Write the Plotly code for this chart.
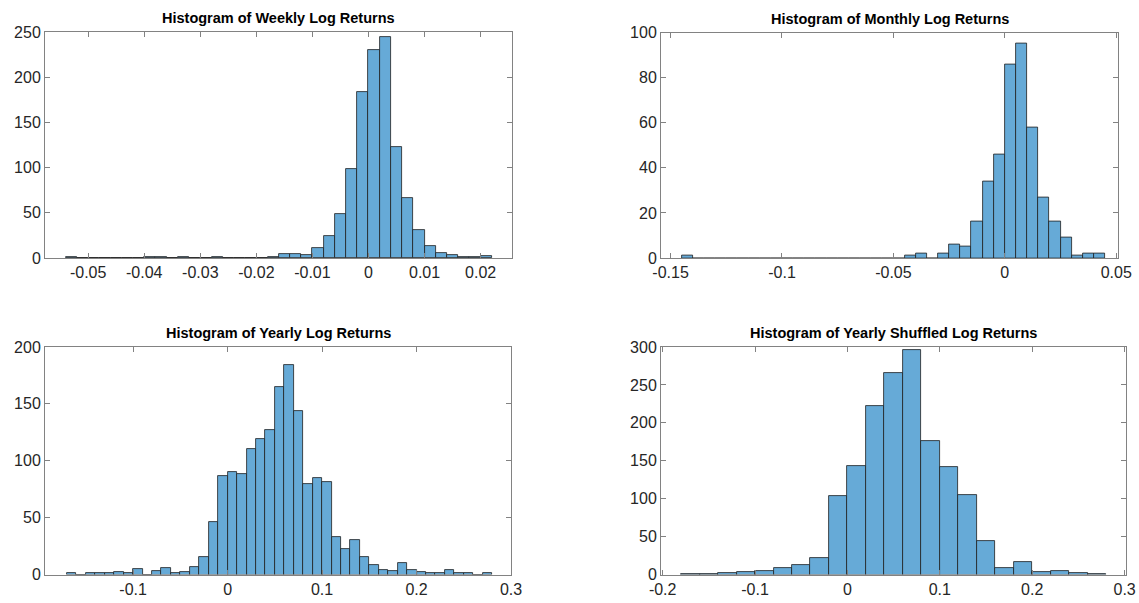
import numpy as np
import plotly.graph_objects as go

W, H = 1139, 603

# ---------------- data ----------------
titles = [
    "Histogram of Weekly Log Returns",
    "Histogram of Monthly Log Returns",
    "Histogram of Yearly Log Returns",
    "Histogram of Yearly Shuffled Log Returns",
]

weekly_start, weekly_width = -0.054, 0.002
weekly_counts = [1, 0, 0, 0, 0, 0, 0, 1, 1, 0, 1, 0, 0, 1, 0, 0, 0, 0, 1,
                 4, 4, 3, 11, 24, 49, 99, 184, 230, 244, 123, 66, 31, 13, 6, 3, 1, 1, 2]

monthly_start, monthly_width = -0.145, 0.005
monthly_counts = [1] + [0] * 19 + [1, 2, 0, 2, 6, 5, 16, 34, 46, 86, 95, 58, 27, 16, 9, 1, 2, 2]

yearly_start, yearly_width = -0.17, 0.01
yearly_counts = [1, 0, 1, 1, 1, 2, 1, 5, 0, 3, 6, 1, 2, 7, 15, 46, 87, 90, 88, 110, 119, 127,
                 165, 184, 144, 80, 85, 81, 33, 22, 30, 15, 8, 4, 3, 10, 4, 2, 1, 1, 4, 1, 1, 0, 1]

shuffled_start, shuffled_width = -0.18, 0.02
shuffled_counts = [1, 1, 2, 3, 5, 9, 13, 22, 104, 143, 222, 266, 296, 176, 142, 105, 44, 9, 17, 3, 5, 2, 1]

x_tickvals = [
    [-0.05, -0.04, -0.03, -0.02, -0.01, 0, 0.01, 0.02],
    [-0.15, -0.1, -0.05, 0, 0.05],
    [-0.1, 0, 0.1, 0.2, 0.3],
    [-0.2, -0.1, 0, 0.1, 0.2, 0.3],
]
x_ticktext = [
    ["-0.05", "-0.04", "-0.03", "-0.02", "-0.01", "0", "0.01", "0.02"],
    ["-0.15", "-0.1", "-0.05", "0", "0.05"],
    ["-0.1", "0", "0.1", "0.2", "0.3"],
    ["-0.2", "-0.1", "0", "0.1", "0.2", "0.3"],
]
y_tickvals = [
    [0, 50, 100, 150, 200, 250],
    [0, 20, 40, 60, 80, 100],
    [0, 50, 100, 150, 200],
    [0, 50, 100, 150, 200, 250, 300],
]
x_ranges = [[-0.0577, 0.0256], [-0.1543, 0.0508], [-0.1933, 0.3], [-0.2018, 0.3015]]
y_ranges = [[0, 250], [0, 100], [0, 200], [0, 300]]

# ---------------- layout (pixel boxes) ----------------
boxes = [  # left, right, top, bottom in px
    (45, 512, 32, 258),
    (661, 1118, 32.5, 258),
    (45, 511, 347, 574.5),
    (661, 1126, 347, 574.5),
]

series = [
    (weekly_start, weekly_width, weekly_counts),
    (monthly_start, monthly_width, monthly_counts),
    (yearly_start, yearly_width, yearly_counts),
    (shuffled_start, shuffled_width, shuffled_counts),
]

FACE = "rgb(102,170,215)"
EDGE = "rgb(30,30,30)"
AXC = "rgb(130,130,130)"
TXT = "rgb(38,38,38)"
FONT = "Liberation Sans, Arial, Helvetica, sans-serif"

fig = go.Figure()
layout = dict(
    template="none",
    width=W, height=H,
    margin=dict(l=0, r=0, t=0, b=0, autoexpand=False),
    paper_bgcolor="white", plot_bgcolor="white",
    showlegend=False, bargap=0,
    font=dict(family=FONT, size=16, color=TXT),
    annotations=[],
)

for i, ((start, width, counts), (l, r, t, b)) in enumerate(zip(series, boxes)):
    n = len(counts)
    centers = start + width * (np.arange(n) + 0.5)
    xa = "x" if i == 0 else f"x{i+1}"
    ya = "y" if i == 0 else f"y{i+1}"
    fig.add_trace(go.Bar(
        x=centers, y=counts, width=width,
        marker=dict(color=FACE, line=dict(color=EDGE, width=0.8)),
        xaxis=xa, yaxis=ya, hoverinfo="x+y",
    ))
    xkey = "xaxis" if i == 0 else f"xaxis{i+1}"
    ykey = "yaxis" if i == 0 else f"yaxis{i+1}"
    layout[xkey] = dict(
        domain=[l / W, r / W], anchor=ya, range=x_ranges[i],
        tickmode="array", tickvals=x_tickvals[i], ticktext=x_ticktext[i],
        ticks="inside", ticklen=5, tickcolor=AXC, tickwidth=1,
        showline=True, linecolor=AXC, linewidth=1, mirror="ticks",
        showgrid=False, zeroline=False, automargin=False,
        tickfont=dict(family=FONT, size=16, color=TXT),
    )
    layout[ykey] = dict(
        domain=[1 - b / H, 1 - t / H], anchor=xa, range=y_ranges[i],
        tickmode="array", tickvals=y_tickvals[i],
        ticktext=[str(v) for v in y_tickvals[i]],
        ticks="inside", ticklen=5, tickcolor=AXC, tickwidth=1,
        showline=True, linecolor=AXC, linewidth=1, mirror="ticks",
        showgrid=False, zeroline=False, automargin=False,
        tickfont=dict(family=FONT, size=16, color=TXT),
    )
    layout["annotations"].append(dict(
        text="<b>" + titles[i] + "</b>",
        xref="paper", yref="paper",
        x=(l + r) / 2 / W, y=1 - t / H,
        xanchor="center", yanchor="bottom", yshift=4,
        showarrow=False,
        font=dict(family=FONT, size=14.5, color="black"),
    ))

fig.update_layout(**layout)
fig.write_html(
    "out.html",
    config={"displayModeBar": False},
    post_script="document.body.style.margin='0';document.body.style.overflow='hidden';",
)
